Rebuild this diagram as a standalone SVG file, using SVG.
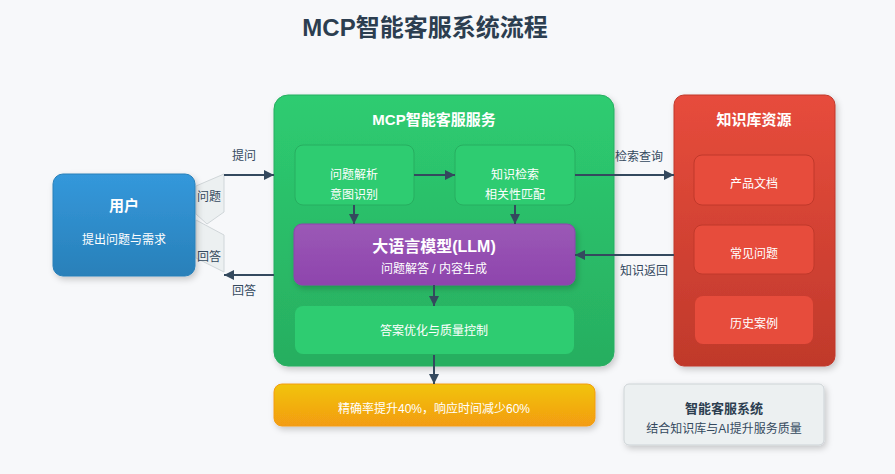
<svg xmlns="http://www.w3.org/2000/svg" width="895" height="474" viewBox="0 0 895 474">
<defs>
<linearGradient id="gBlue" x1="0" y1="0" x2="0" y2="1"><stop offset="0" stop-color="#3498db"/><stop offset="1" stop-color="#2980b9"/></linearGradient>
<linearGradient id="gGreen" x1="0" y1="0" x2="0" y2="1"><stop offset="0" stop-color="#2ecc71"/><stop offset="1" stop-color="#27ae60"/></linearGradient>
<linearGradient id="gPurple" x1="0" y1="0" x2="0" y2="1"><stop offset="0" stop-color="#9b59b6"/><stop offset="1" stop-color="#8e44ad"/></linearGradient>
<linearGradient id="gRed" x1="0" y1="0" x2="0" y2="1"><stop offset="0" stop-color="#e74c3c"/><stop offset="1" stop-color="#c0392b"/></linearGradient>
<linearGradient id="gYellow" x1="0" y1="0" x2="0" y2="1"><stop offset="0" stop-color="#f1c40f"/><stop offset="1" stop-color="#f39c12"/></linearGradient>
<filter id="sh" x="-20%" y="-20%" width="140%" height="150%"><feDropShadow dx="2" dy="3" stdDeviation="3" flood-color="#000" flood-opacity="0.2"/></filter>
<marker id="ah" viewBox="0 0 10 10" refX="10" refY="5" markerWidth="5" markerHeight="5" orient="auto-start-reverse"><path d="M0,0 L10,5 L0,10 z" fill="#34495e"/></marker>
<style>
text{font-family:"Liberation Sans","Noto Sans CJK SC",sans-serif;text-anchor:middle}
.w{fill:#fff}
.t{font-size:15px;font-weight:bold}
.s{font-size:12px}
.lbl{font-size:12px;fill:#34495e}
.cn{stroke:#34495e;stroke-width:2;fill:none;marker-end:url(#ah)}
.sub{fill:#2ecc71;stroke:#27ae60;stroke-width:1}
.rsub{fill:#e74c3c;stroke:#c0392b;stroke-width:1}
.flap{fill:#ecf0f1;stroke:#d0d6d9;stroke-width:1}
</style>
</defs>
<rect width="895" height="474" fill="#f7f8fa"/>
<text x="425" y="36" style="font-size:24px;font-weight:bold;fill:#2c3e50">MCP智能客服系统流程</text>

<g id="flaps">
<polygon class="flap" points="196,186 224,174 224,212 207,224 196,214"/>
<polygon class="flap" points="196,220 224,235 224,272 196,258"/>
<text x="209" y="201" class="lbl">问题</text>
<text x="209" y="261" class="lbl">回答</text>
</g>

<g id="user">
<rect x="53" y="174" width="142" height="102" rx="10" fill="url(#gBlue)" stroke="#2980b9" filter="url(#sh)"/>
<text x="124" y="211" class="w t">用户</text>
<text x="124" y="244" class="w s">提出问题与需求</text>
</g>

<g id="mcp">
<rect x="274" y="95" width="340" height="271" rx="14" fill="url(#gGreen)" stroke="#27ae60" filter="url(#sh)"/>
<text x="434" y="125" class="w t">MCP智能客服服务</text>
</g>
<g id="parse">
<rect x="295" y="145" width="119" height="60" rx="8" class="sub"/>
<text x="354" y="179" class="w s">问题解析</text>
<text x="354" y="199" class="w s">意图识别</text>
</g>
<g id="retrieve">
<rect x="455" y="145" width="120" height="60" rx="8" class="sub"/>
<text x="515" y="179" class="w s">知识检索</text>
<text x="515" y="199" class="w s">相关性匹配</text>
</g>
<g id="llm">
<rect x="294" y="224" width="281" height="61" rx="8" fill="url(#gPurple)" stroke="#8e44ad" filter="url(#sh)"/>
<text x="434" y="252" class="w" style="font-size:16px;font-weight:bold">大语言模型(LLM)</text>
<text x="434" y="273" class="w s">问题解答 / 内容生成</text>
</g>
<g id="optimize">
<rect x="295" y="306" width="279" height="48" rx="8" fill="#2ecc71"/>
<text x="434" y="335" class="w s">答案优化与质量控制</text>
</g>
<g id="result">
<rect x="274" y="384" width="321" height="42" rx="8" fill="url(#gYellow)" stroke="#f39c12" filter="url(#sh)"/>
<text x="434" y="413" class="w s">精确率提升40%，响应时间减少60%</text>
</g>

<g id="kb">
<rect x="674" y="95" width="161" height="271" rx="10" fill="url(#gRed)" stroke="#c0392b" filter="url(#sh)"/>
<text x="754" y="125" class="w t">知识库资源</text>
</g>
<g id="docs">
<rect x="694" y="155" width="120" height="50" rx="8" class="rsub"/>
<text x="754" y="188" class="w s">产品文档</text>
</g>
<g id="faq">
<rect x="694" y="225" width="120" height="49" rx="8" class="rsub"/>
<text x="754" y="258" class="w s">常见问题</text>
</g>
<g id="cases">
<rect x="695" y="296" width="118" height="48" rx="8" fill="#e74c3c"/>
<text x="754" y="328" class="w s">历史案例</text>
</g>

<g id="legend">
<rect x="624" y="384" width="200" height="61" rx="5" fill="#ecf0f1" stroke="#cdd3d6" filter="url(#sh)"/>
<text x="724" y="413" style="font-size:13px;font-weight:bold;fill:#2c3e50">智能客服系统</text>
<text x="724" y="433" style="font-size:12px;fill:#34495e">结合知识库与AI提升服务质量</text>
</g>

<g id="connectors">
<line x1="224" y1="175" x2="274" y2="175" class="cn"/>
<text x="244" y="160" class="lbl">提问</text>
<line x1="274" y1="275" x2="224" y2="275" class="cn"/>
<text x="244" y="295" class="lbl">回答</text>
<line x1="414" y1="175" x2="455" y2="175" class="cn"/>
<line x1="354" y1="205" x2="354" y2="224" class="cn"/>
<line x1="515" y1="205" x2="515" y2="224" class="cn"/>
<line x1="434" y1="285" x2="434" y2="306" class="cn"/>
<line x1="434" y1="355" x2="434" y2="384" class="cn"/>
<line x1="575" y1="175" x2="674" y2="175" class="cn"/>
<text x="639" y="161" class="lbl">检索查询</text>
<line x1="674" y1="255" x2="575" y2="255" class="cn"/>
<text x="644" y="275" class="lbl">知识返回</text>
</g>
</svg>
